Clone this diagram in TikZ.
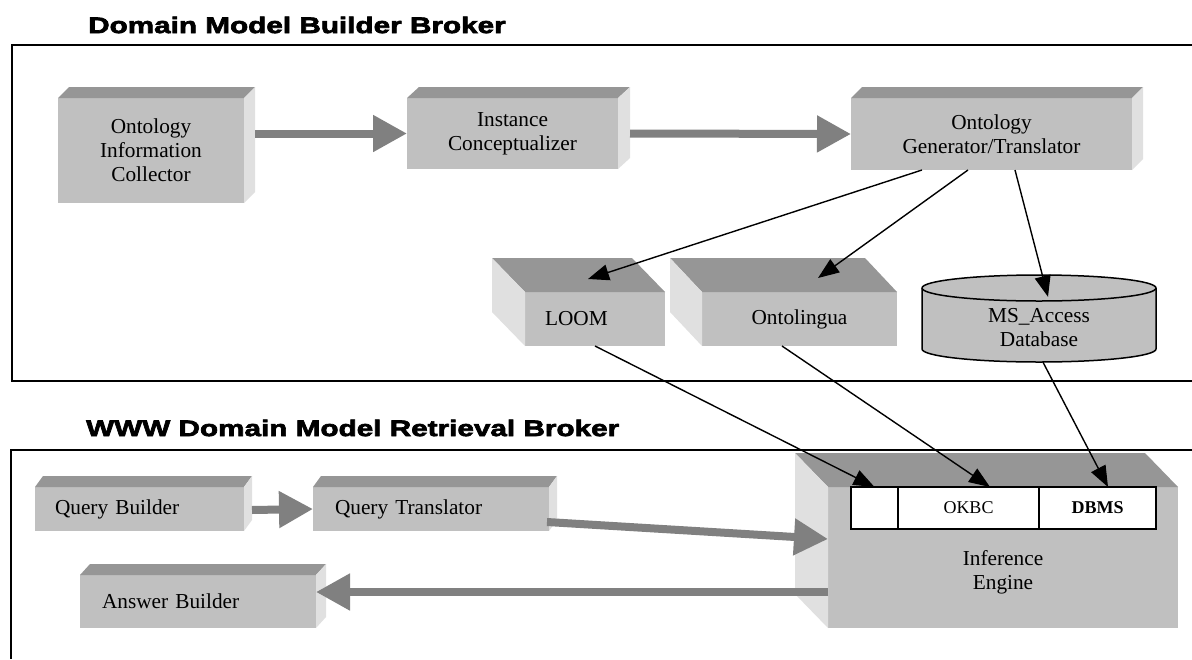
\documentclass[tikz,border=0pt]{standalone}
\usepackage{fontspec}
\setmainfont{Liberation Serif}
\newfontfamily\ttlfam{Liberation Sans Bold}[FakeBold=3,FakeStretch=1.32]
\usetikzlibrary{arrows.meta,calc}
\definecolor{cfront}{HTML}{C0C0C0}
\definecolor{ctop}{HTML}{969696}
\definecolor{cside}{HTML}{E0E0E0}
\definecolor{carrow}{HTML}{808080}
\newcommand\fsmain{\fontsize{21.3}{24}\selectfont}
\newcommand\fscell{\fontsize{18}{21}\selectfont}
\newcommand\fsttl{\ttlfam\fontsize{22.5}{26}\selectfont}
\newcommand\faceRU[3]{%
  \fill[ctop] (#1.north west) -- (#1.north east) -- ++(#2,-#3) -- ($(#1.north west)+(#2,-#3)$) -- cycle;
  \fill[cside] (#1.north east) -- ++(#2,-#3) -- ($(#1.south east)+(#2,-#3)$) -- (#1.south east) -- cycle;}
\newcommand\faceLU[3]{%
  \fill[ctop] (#1.north west) -- (#1.north east) -- ++(-#2,-#3) -- ($(#1.north west)+(-#2,-#3)$) -- cycle;
  \fill[cside] (#1.north west) -- ++(-#2,-#3) -- ($(#1.south west)+(-#2,-#3)$) -- (#1.south west) -- cycle;}
\begin{document}
\begin{tikzpicture}[x=1pt,y=-1pt,font=\fsmain,
  frontbox/.style={fill=cfront,draw=none,inner sep=0pt,outer sep=0pt,align=center},
  leftbox/.style={frontbox,align=left},
  cell/.style={fill=white,draw=black,line width=1.5pt,inner sep=0pt,outer sep=0pt,minimum height=42pt,font=\fscell},
  frame/.style={draw=black,line width=1.6pt},
  thinarrow/.style={draw=black,line width=1.4pt,-{Triangle[length=21pt,width=16pt]}},
  grayarrow/.style={draw=carrow,line width=8pt,-{Triangle[length=34pt,width=35pt]},color=carrow},
  ttl/.style={anchor=west,font=\fsttl,inner sep=0pt}]
\useasboundingbox (0,0) rectangle (1192,659);
\fill[white] (0,0) rectangle (1192,659);

% ---------- Domain Model Builder Broker ----------
\node[ttl] (t1) at (88,25) {Domain Model Builder Broker};
\draw[frame] (1192,45) -- (12,45) -- (12,381) -- (1192,381);

\node[frontbox,minimum width=186pt,minimum height=105pt] (oic) at (151,150.5) {Ontology\\Information\\Collector};
\faceRU{oic}{11}{11}
\node[frontbox,minimum width=211pt,minimum height=71pt] (ic) at (512.5,133.5) {Instance\\Conceptualizer};
\faceRU{ic}{12}{11}
\node[frontbox,minimum width=281pt,minimum height=72pt] (ogt) at (991.5,134) {Ontology\\Generator/Translator};
\faceRU{ogt}{11}{11}

\node[leftbox,minimum width=140pt,minimum height=54pt,text width=100pt,inner xsep=20pt] (loom) at (595,319) {LOOM};
\faceLU{loom}{33}{34}
\node[frontbox,minimum width=195pt,minimum height=54pt] (onto) at (799.5,319) {Ontolingua};
\faceLU{onto}{32}{34}

% cylinder
\filldraw[fill=cfront,draw=black,line width=1.5pt] (922,288) -- (922,349)
  arc[start angle=180,end angle=360,x radius=117pt,y radius=13pt] -- (1156,288)
  arc[start angle=0,end angle=180,x radius=117pt,y radius=13pt] -- cycle;
\draw[black,line width=1.5pt] (922,288) arc[start angle=180,end angle=360,x radius=117pt,y radius=13pt];
\node[align=center,inner sep=0pt,minimum width=234pt,minimum height=68pt] (db) at (1039,328) {MS\_Access\\Database};

% ---------- WWW Domain Model Retrieval Broker ----------
\node[ttl] (t2) at (86,428) {WWW Domain Model Retrieval Broker};

\node[frontbox,minimum width=350pt,minimum height=141pt] (ie) at (1003,557.5) {};
\faceLU{ie}{33}{34}
\node[align=center,inner sep=0pt] (iel) at (1003,572) {Inference\\Engine};
\node[cell,minimum width=47pt] (c1) at (874.5,508) {};
\node[cell,minimum width=141pt] (c2) at (968.5,508) {OKBC};
\node[cell,minimum width=117pt] (c3) at (1097.5,508) {\bfseries DBMS};

\draw[frame] (1192,450) -- (11,450) -- (11,659);

\node[leftbox,minimum width=209pt,minimum height=44pt,text width=169pt,inner xsep=20pt] (qb) at (139.5,509) {Query Builder};
\faceRU{qb}{8}{11}
\node[leftbox,minimum width=236pt,minimum height=44pt,text width=192pt,inner xsep=22pt] (qt) at (431,509) {Query Translator};
\faceRU{qt}{8}{11}
\node[leftbox,minimum width=236pt,minimum height=53pt,text width=192pt,inner xsep=22pt] (ab) at (198,601.5) {Answer Builder};
\faceRU{ab}{10}{11}

% ---------- connectors ----------
\draw[thinarrow] ([xshift=-69.5pt]ogt.south) -- ([xshift=-7pt,yshift=13pt]loom.north);
\draw[thinarrow] ([xshift=-23.5pt]ogt.south) -- ([xshift=18.5pt,yshift=14pt]onto.north);
\draw[thinarrow] ([xshift=23.5pt]ogt.south) -- ([xshift=9pt,yshift=-3pt]db.north);
\draw[thinarrow] (loom.south) -- (c1.north);
\draw[thinarrow] ([xshift=-17.5pt]onto.south) -- ([xshift=21.5pt]c2.north);
\draw[thinarrow] ([xshift=4pt]db.south) -- ([xshift=10.5pt]c3.north);

\draw[grayarrow] ($(oic.east |- ic.west)+(11,0)$) -- (ic.west);
\draw[grayarrow] ($(ic.east)+(12,0)$) -- (ogt.west);
\draw[grayarrow] ($(qb.east)+(8,1)$) -- (qt.west);
\draw[grayarrow] ($(qt.east)+(-2,13)$) -- ([yshift=18.5pt]ie.west);
\draw[grayarrow] ($(ie.west)+(0,34.5)$) -- ($(ab.east)+(0,-9.5)$);
\end{tikzpicture}
\end{document}
